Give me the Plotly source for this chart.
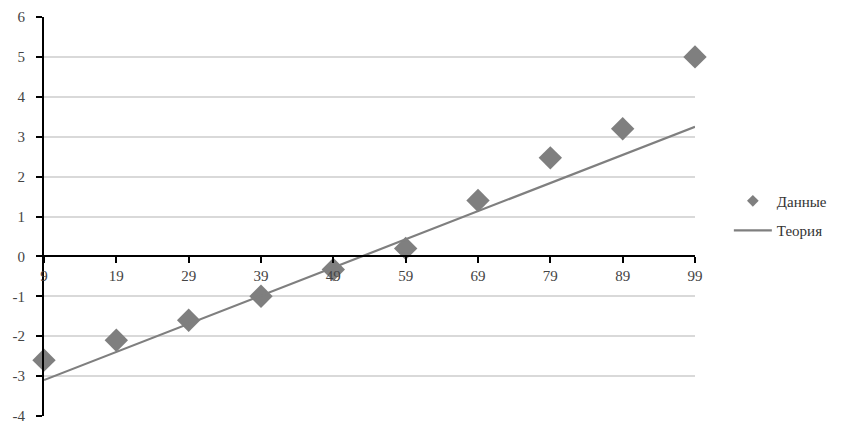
import plotly.graph_objects as go

categories = ["9", "19", "29", "39", "49", "59", "69", "79", "89", "99"]
data_values = [-2.6, -2.1, -1.6, -1.0, -0.33, 0.2, 1.4, 2.47, 3.2, 5.0]
theory_values = [-3.1, -2.4, -1.7, -0.98, -0.28, 0.43, 1.13, 1.84, 2.54, 3.25]
y_ticks = [-4, -3, -2, -1, 0, 1, 2, 3, 4, 5, 6]
y_tick_labels = ["-4", "-3", "-2", "-1", "0", "1", "2", "3", "4", "5", "6"]

font_family = "Liberation Serif, Times New Roman, serif"
gray = "#7f7f7f"

fig = go.Figure()
fig.add_trace(go.Scatter(
    x=categories, y=data_values, mode="markers", name="Данные",
    marker=dict(symbol="diamond", size=18, color=gray, line=dict(width=0)),
    cliponaxis=False, showlegend=False,
))
# legend entry with a small marker, as in the reference
fig.add_trace(go.Scatter(
    x=[None], y=[None], mode="markers", name="Данные",
    marker=dict(symbol="diamond", size=9, color=gray),
    legendgroup="a", showlegend=True,
))
fig.add_trace(go.Scatter(
    x=categories, y=theory_values, mode="lines", name="Теория",
    line=dict(color=gray, width=2.2),
    cliponaxis=False, legendgroup="b",
))

fig.update_layout(
    width=857, height=429,
    margin=dict(l=36, r=170, t=9, b=21),
    paper_bgcolor="white", plot_bgcolor="white",
    font=dict(family=font_family, size=15, color="#333333"),
    showlegend=True,
    legend=dict(x=1.052, y=0.58, xanchor="left", yanchor="top",
                font=dict(family=font_family, size=15, color="#333333"),
                bgcolor="rgba(0,0,0,0)", tracegroupgap=7, itemwidth=38),
    xaxis=dict(
        type="category", range=[0, 9], anchor="free", position=0.4,
        showline=True, linecolor="black", linewidth=2,
        ticks="outside", ticklen=6, tickcolor="black", tickwidth=2,
        showgrid=False, zeroline=False, automargin=False,
        tickfont=dict(family=font_family, size=15, color="#444444"),
    ),
    yaxis=dict(
        range=[-4, 6], tickvals=y_ticks, ticktext=y_tick_labels, domain=[0, 1],
        showline=True, linecolor="black", linewidth=2,
        ticks="outside", ticklen=6, tickcolor="black", tickwidth=2,
        showgrid=True, gridcolor="#d9d9d9", gridwidth=2,
        zeroline=False, ticklabelstandoff=8, automargin=False,
        ticklabeloverflow="allow",
        tickfont=dict(family=font_family, size=15, color="#444444"),
    ),
)

fig.write_html("out.html")
